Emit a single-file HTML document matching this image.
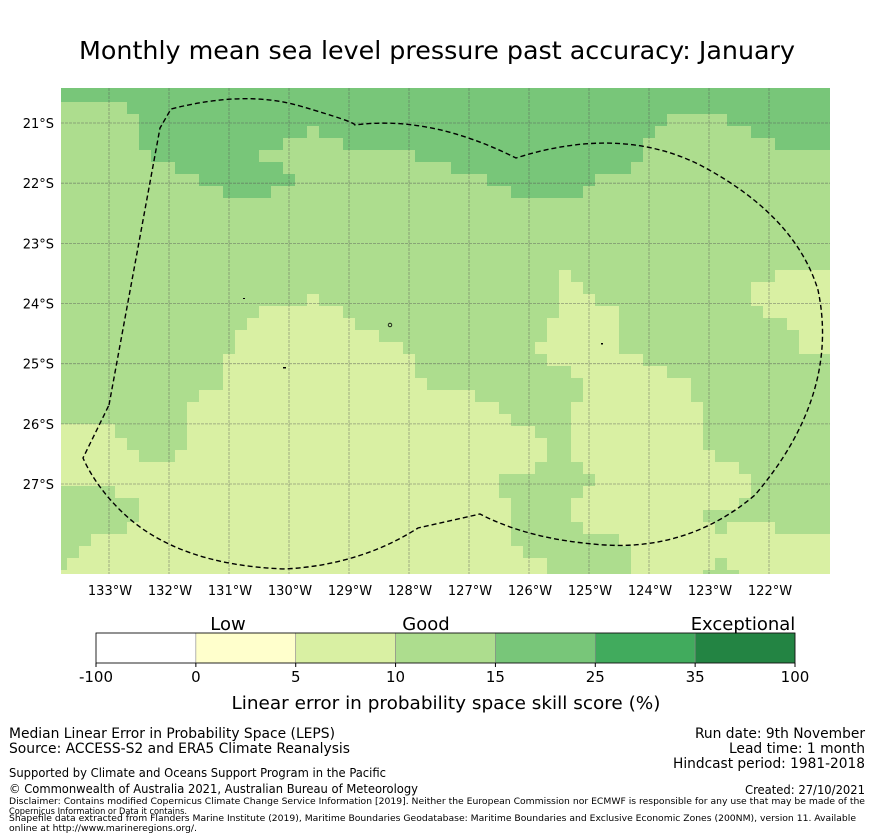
<!DOCTYPE html>
<html><head><meta charset="utf-8"><style>
html,body{margin:0;padding:0;background:#fff;}
svg{display:block;}
.t{font-family:"DejaVu Sans","Liberation Sans",sans-serif;fill:#000;}
.c{font-family:"DejaVu Sans Condensed","DejaVu Sans","Liberation Sans",sans-serif;font-stretch:condensed;fill:#000;}
</style></head><body>
<svg id="chart" width="873" height="839" viewBox="0 0 873 839" xmlns="http://www.w3.org/2000/svg">
<text class="t" x="437" y="59" font-size="25" textLength="716" lengthAdjust="spacingAndGlyphs" text-anchor="middle">Monthly mean sea level pressure past accuracy: January</text>
<g id="map">
<clipPath id="mc"><rect x="61" y="88" width="769" height="486"/></clipPath>
<g clip-path="url(#mc)">
<rect x="61" y="88" width="769" height="486" fill="#addd8e"/>
<polygon fill="#d9f0a3" points="61,424 115,424 115,438 127,438 127,450 139,450 139,462 175,462 175,450 187,450 187,402 199,402 199,390 223,390 223,354 235,354 235,330 247,330 247,318 259,318 259,306 307,306 307,294 319,294 319,306 343,306 343,318 355,318 355,330 379,330 379,342 403,342 403,354 415,354 415,378 427,378 427,390 475,390 475,402 499,402 499,414 511,414 511,426 535,426 535,438 547,438 547,462 535,462 535,474 499,474 499,498 511,498 511,546 523,546 523,558 547,558 547,574 61,574 61,570 67,570 67,558 79,558 79,546 91,546 91,534 127,534 127,522 139,522 139,498 115,498 115,486 61,486"/>
<polygon fill="#d9f0a3" points="559,270 571,270 571,282 583,282 583,294 595,294 595,306 619,306 619,354 643,354 643,366 667,366 667,378 691,378 691,402 703,402 703,450 715,450 715,462 739,462 739,474 751,474 751,498 739,498 739,510 703,510 703,522 715,522 715,534 727,534 727,522 775,522 775,534 830,534 830,574 631,574 631,546 619,546 619,534 583,534 583,522 571,522 571,498 583,498 583,486 595,486 595,474 583,474 583,462 571,462 571,402 583,402 583,378 571,378 571,366 547,366 547,354 535,354 535,342 547,342 547,318 559,318"/>
<polygon fill="#d9f0a3" points="775,270 830,270 830,354 799,354 799,330 787,330 787,318 763,318 763,306 751,306 751,282 775,282"/>
<rect x="715" y="558" width="12" height="16" fill="#addd8e"/>
<rect x="703" y="570" width="36" height="4" fill="#addd8e"/>
<polygon fill="#78c679" points="61,88 830,88 830,150 775,150 775,138 751,138 751,126 727,126 727,114 667,114 667,126 655,126 655,138 643,138 643,162 631,162 631,174 595,174 595,186 583,186 583,198 511,198 511,186 487,186 487,174 451,174 451,162 415,162 415,150 343,150 343,138 319,138 319,126 307,126 307,138 283,138 283,150 259,150 259,162 283,162 283,174 295,174 295,186 271,186 271,198 223,198 223,186 199,186 199,174 175,174 175,162 151,162 151,150 139,150 139,114 127,114 127,102 61,102"/>
<g id="grid" stroke="#555" stroke-opacity="0.55" stroke-width="0.8" stroke-dasharray="3,1"></g>
<path fill="none" stroke="#000" stroke-width="1.4" stroke-dasharray="5,3" d="M109,405 L160,128 L171,109 Q245,90 300,106 T355,125 Q430,115 516,158 Q620,125 700,165 Q795,215 818,290 Q840,395 755,495 Q690,550 605,545 Q530,540 480,514 L418,528 Q360,565 285,569 Q175,565 120,510 Q95,485 83,458 Z"/>
<rect x="243" y="298" width="2" height="1" fill="#000"/>
<circle cx="390" cy="325" r="1.8" fill="none" stroke="#000" stroke-width="0.8"/>
<rect x="283" y="367" width="3" height="1.5" fill="#000"/>
<rect x="601" y="343" width="2" height="1.5" fill="#000"/>
</g>
<g id="lonlabels"></g><g id="latlabels"></g>
</g>
<g id="colorbar"></g>
<text class="t" x="228" y="630" font-size="18" text-anchor="middle">Low</text>
<text class="t" x="426" y="630" font-size="18" text-anchor="middle">Good</text>
<text class="t" x="743" y="630" font-size="18" text-anchor="middle">Exceptional</text>
<text class="t" x="446" y="709" font-size="18" textLength="429" lengthAdjust="spacingAndGlyphs" text-anchor="middle">Linear error in probability space skill score (%)</text>
<g class="c">
<text x="9" y="738" font-size="14" textLength="326" lengthAdjust="spacingAndGlyphs">Median Linear Error in Probability Space (LEPS)</text>
<text x="9" y="753" font-size="14" textLength="341" lengthAdjust="spacingAndGlyphs">Source: ACCESS-S2 and ERA5 Climate Reanalysis</text>
<text x="9" y="777" font-size="12" textLength="377" lengthAdjust="spacingAndGlyphs">Supported by Climate and Oceans Support Program in the Pacific</text>
<text x="9" y="793" font-size="12" textLength="409" lengthAdjust="spacingAndGlyphs">© Commonwealth of Australia 2021, Australian Bureau of Meteorology</text>
<text x="695" y="738" font-size="14" textLength="170" lengthAdjust="spacingAndGlyphs">Run date: 9th November</text>
<text x="729" y="753" font-size="14" textLength="136" lengthAdjust="spacingAndGlyphs">Lead time: 1 month</text>
<text x="673" y="768" font-size="14" textLength="192" lengthAdjust="spacingAndGlyphs">Hindcast period: 1981-2018</text>
<text x="745" y="794" font-size="12" textLength="120" lengthAdjust="spacingAndGlyphs">Created: 27/10/2021</text>
<text x="9" y="804" font-size="9" textLength="856" lengthAdjust="spacingAndGlyphs">Disclaimer: Contains modified Copernicus Climate Change Service Information [2019]. Neither the European Commission nor ECMWF is responsible for any use that may be made of the</text>
<text x="9" y="814" font-size="9" textLength="178" lengthAdjust="spacingAndGlyphs">Copernicus Information or Data it contains.</text>
<text x="9" y="821" font-size="9" textLength="847" lengthAdjust="spacingAndGlyphs">Shapefile data extracted from Flanders Marine Institute (2019), Maritime Boundaries Geodatabase: Maritime Boundaries and Exclusive Economic Zones (200NM), version 11. Available</text>
<text x="9" y="831" font-size="9" textLength="188" lengthAdjust="spacingAndGlyphs">online at http://www.marineregions.org/.</text>
</g>
</svg>
<script>
const lonTicks = [133,132,131,130,129,128,127,126,125,124,123,122];
const latTicks = [21,22,23,24,25,26,27];
const cbBounds = ["-100","0","5","10","15","25","35","100"];
const cbColors = ["#ffffff","#ffffcc","#d9f0a3","#addd8e","#78c679","#41ab5d","#238443"];
const NS='http://www.w3.org/2000/svg';
const xLon = l => 109 + (133 - l) * 60;
const yLat = l => 123 + (l - 21) * 60.17;
const grid = document.getElementById('grid');
const lonG = document.getElementById('lonlabels');
const latG = document.getElementById('latlabels');
lonTicks.forEach(l => {
  const ln = document.createElementNS(NS,'line');
  ln.setAttribute('x1',xLon(l));ln.setAttribute('x2',xLon(l));ln.setAttribute('y1',88);ln.setAttribute('y2',574);
  
  
  grid.appendChild(ln);
  const t = document.createElementNS(NS,'text');
  t.setAttribute('x',xLon(l)+1);t.setAttribute('y',595);t.setAttribute('text-anchor','middle');
  t.setAttribute('class','t');t.setAttribute('font-size','13');
  t.textContent = l + '°W';
  
  
  lonG.appendChild(t);
});
latTicks.forEach(l => {
  const ln = document.createElementNS(NS,'line');
  ln.setAttribute('y1',yLat(l));ln.setAttribute('y2',yLat(l));ln.setAttribute('x1',61);ln.setAttribute('x2',830);
  
  
  grid.appendChild(ln);
  const t = document.createElementNS(NS,'text');
  t.setAttribute('x',54);t.setAttribute('y',yLat(l)+5);t.setAttribute('text-anchor','end');
  t.setAttribute('class','t');t.setAttribute('font-size','13');
  t.textContent = l + '°S';
  
  
  latG.appendChild(t);
});
const cb = document.getElementById('colorbar');
const cbX0 = 96, cbW = 699, cbY = 633, cbH = 30;
const segW = cbW / cbColors.length;
cbColors.forEach((c,i) => {
  const r = document.createElementNS(NS,'rect');
  r.setAttribute('x',cbX0+i*segW);r.setAttribute('y',cbY);r.setAttribute('width',segW);r.setAttribute('height',cbH);
  r.setAttribute('fill',c);r.setAttribute('stroke','#888');r.setAttribute('stroke-width','0.6');
  
  
  cb.appendChild(r);
});
const outline = document.createElementNS(NS,'rect');
outline.setAttribute('x',cbX0);outline.setAttribute('y',cbY);outline.setAttribute('width',cbW);outline.setAttribute('height',cbH);
outline.setAttribute('fill','none');outline.setAttribute('stroke','#000');outline.setAttribute('stroke-width','0.8');


cb.appendChild(outline);
cbBounds.forEach((b,i) => {
  const x = cbX0 + i*segW;
  const tk = document.createElementNS(NS,'line');
  tk.setAttribute('x1',x);tk.setAttribute('x2',x);tk.setAttribute('y1',cbY+cbH);tk.setAttribute('y2',cbY+cbH+4);tk.setAttribute('stroke','#000');
  
  
  cb.appendChild(tk);
  const t = document.createElementNS(NS,'text');
  t.setAttribute('x',x);t.setAttribute('y',682);t.setAttribute('text-anchor','middle');
  t.setAttribute('class','t');t.setAttribute('font-size','15');
  t.textContent = b;
  
  
  cb.appendChild(t);
});
</script>
</body></html>
